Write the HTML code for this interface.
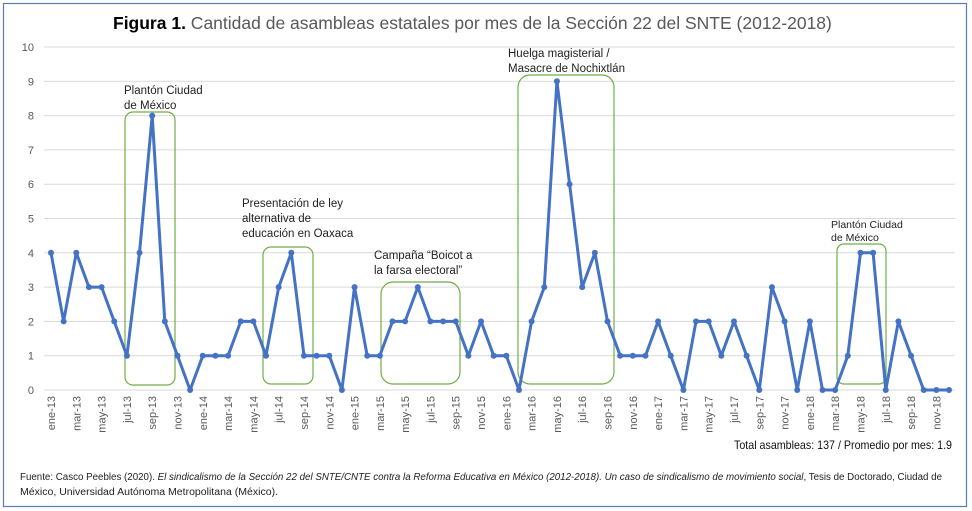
<!DOCTYPE html>
<html><head><meta charset="utf-8"><style>
html,body{margin:0;padding:0;background:#fff;}
svg{display:block;font-family:"Liberation Sans",sans-serif;}
</style></head><body>
<svg id="chart" width="972" height="511" viewBox="0 0 972 511" xmlns="http://www.w3.org/2000/svg">
<rect x="3.5" y="3.5" width="963" height="503" fill="#fff" stroke="#5b7bb5" stroke-width="1.2"/>
<text x="113" y="29" font-size="17.5"><tspan font-weight="bold" fill="#000">Figura 1.</tspan><tspan fill="#595959"> Cantidad de asambleas estatales por mes de la Sección 22 del SNTE (2012-2018)</tspan></text>
<g id="grid"></g>
<g id="yticks"></g>
<g id="xticks"></g>
<g id="boxes">
<rect x="125" y="112" width="50" height="273" rx="8" fill="none" stroke="#70ad47" stroke-width="1.2"/>
<rect x="263" y="247" width="50" height="137" rx="8" fill="none" stroke="#70ad47" stroke-width="1.2"/>
<rect x="381" y="282" width="79" height="102" rx="12" fill="none" stroke="#70ad47" stroke-width="1.2"/>
<rect x="518" y="75" width="96" height="309" rx="12" fill="none" stroke="#70ad47" stroke-width="1.2"/>
<rect x="837" y="244" width="49" height="140" rx="7" fill="none" stroke="#70ad47" stroke-width="1.2"/>
</g>
<g font-size="11.5" fill="#222">
<text x="124" y="94">Plantón Ciudad<tspan x="124" dy="15">de México</tspan></text>
<text x="242" y="207">Presentación de ley<tspan x="242" dy="15">alternativa de</tspan><tspan x="242" dy="15">educación en Oaxaca</tspan></text>
<text x="374" y="259">Campaña “Boicot a<tspan x="374" dy="15">la farsa electoral”</tspan></text>
<text x="508" y="57">Huelga magisterial /<tspan x="508" dy="15">Masacre de Nochixtlán</tspan></text>
<text x="831" y="228" font-size="10.5">Plantón Ciudad<tspan x="831" dy="13">de México</tspan></text>
</g>
<g id="series"></g>
<text x="952" y="449" font-size="12" fill="#111" text-anchor="end" textLength="218" lengthAdjust="spacingAndGlyphs">Total asambleas: 137 / Promedio por mes: 1.9</text>
<text font-size="10" fill="#222"><tspan x="20" y="480" textLength="922" lengthAdjust="spacingAndGlyphs">Fuente: Casco Peebles (2020). <tspan font-style="italic">El sindicalismo de la Sección 22 del SNTE/CNTE contra la Reforma Educativa en México (2012-2018). Un caso de sindicalismo de movimiento social</tspan>, Tesis de Doctorado, Ciudad de</tspan><tspan x="20" y="495" textLength="258" lengthAdjust="spacingAndGlyphs">México, Universidad Autónoma Metropolitana (México).</tspan></text>
</svg>
<script>
const years = ["13","14","15","16","17","18"];
const monthNames = ["ene","feb","mar","abr","may","jun","jul","ago","sep","oct","nov","dic"];
const values = [4,2,4,3,3,2,1,4,8,2,1,0,
 1,1,1,2,2,1,3,4,1,1,1,0,
 3,1,1,2,2,3,2,2,2,1,2,1,
 1,0,2,3,9,6,3,4,2,1,1,1,
 2,1,0,2,2,1,2,1,0,3,2,0,
 2,0,0,1,4,4,0,2,1,0,0,0];
const yTicks = [0,1,2,3,4,5,6,7,8,9,10];
const categories = [];
years.forEach(y => monthNames.forEach(m => categories.push(m + "-" + y)));

const NS = "http://www.w3.org/2000/svg";
const x0 = 51, x1 = 949, yBase = 390, yTop = 47;
const xs = i => x0 + i * (x1 - x0) / (categories.length - 1);
const ys = v => yBase - v * (yBase - yTop) / 10;
function mk(tag, attrs, parent) {
  const e = document.createElementNS(NS, tag);
  for (const k in attrs) e.setAttribute(k, attrs[k]);
  parent.appendChild(e);
  return e;
}
const grid = document.getElementById("grid");
const yt = document.getElementById("yticks");
yTicks.forEach(t => {
  const l = mk("line", {x1: 44, x2: 955, y1: ys(t), y2: ys(t), stroke: "#d9d9d9", "stroke-width": 1}, grid);
  
  
  const tx = mk("text", {x: 34, y: ys(t) + 4, "font-size": 11, fill: "#595959", "text-anchor": "end"}, yt);
  tx.textContent = t;
  
  
});
const xt = document.getElementById("xticks");
categories.forEach((c, i) => {
  if (i % 2) return;
  const x = xs(i), y = 396;
  const tx = mk("text", {x: x, y: y, "font-size": 11, fill: "#595959", "text-anchor": "end", transform: `rotate(-90 ${x} ${y}) translate(0 4)`}, xt);
  tx.textContent = c;
  
  
});
const sg = document.getElementById("series");
const pts = values.map((v, i) => xs(i).toFixed(1) + "," + ys(v).toFixed(1)).join(" ");
const pl = mk("polyline", {points: pts, fill: "none", stroke: "#4472c4", "stroke-width": 3, "stroke-linejoin": "round"}, sg);


values.forEach((v, i) => {
  const c = mk("circle", {cx: xs(i), cy: ys(v), r: 3, fill: "#4472c4"}, sg);
  
  
});
</script>
</body></html>
